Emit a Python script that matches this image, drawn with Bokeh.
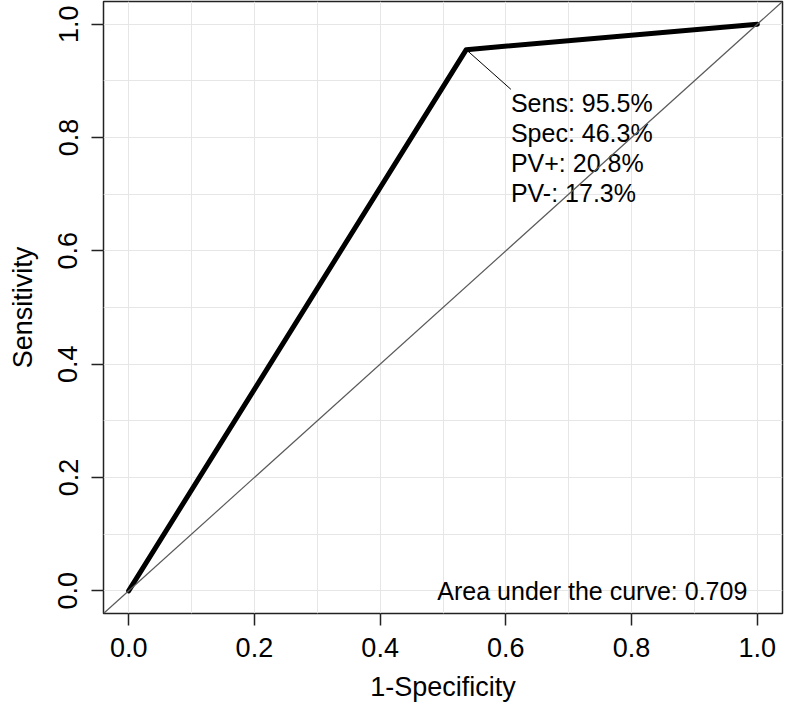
import math
from bokeh.plotting import figure
from bokeh.models import FixedTicker, Slope, Range1d, ColumnDataSource, PrintfTickFormatter
from bokeh.core.properties import value
from bokeh.embed import file_html
from bokeh.resources import INLINE

# ROC data
fpr = [0.0, 0.537, 1.0]          # 1 - Specificity
tpr = [0.0, 0.955, 1.0]          # Sensitivity
x_ticks = [0.0, 0.2, 0.4, 0.6, 0.8, 1.0]
y_ticks = [0.0, 0.2, 0.4, 0.6, 0.8, 1.0]
grid_ticks = [0.0, 0.1, 0.2, 0.3, 0.4, 0.5, 0.6, 0.7, 0.8, 0.9, 1.0]
stats_labels = ["Sens: 95.5%", "Spec: 46.3%", "PV+: 20.8%", "PV-: 17.3%"]
auc_label = "Area under the curve: 0.709"

FONT = "Liberation Sans"

p = figure(width=784, height=709, output_backend="svg", toolbar_location=None,
           x_range=Range1d(-0.04, 1.04), y_range=Range1d(-0.04, 1.04),
           min_border_left=103, min_border_right=2, min_border_top=1, min_border_bottom=96)

p.background_fill_color = "white"
p.border_fill_color = "white"
p.outline_line_color = "#222222"
p.outline_line_width = 1.5

for g in (p.xgrid, p.ygrid):
    g.ticker = FixedTicker(ticks=grid_ticks)
    g.grid_line_color = "#e6e6e6"
    g.grid_line_width = 1

for ax, ticks in ((p.xaxis, x_ticks), (p.yaxis, y_ticks)):
    ax.ticker = FixedTicker(ticks=ticks)
    ax.formatter = PrintfTickFormatter(format="%.1f")
    ax.axis_line_color = None
    ax.major_tick_in = 0
    ax.major_tick_out = 12
    ax.major_tick_line_color = "#222222"
    ax.major_tick_line_width = 1.5
    ax.minor_tick_line_color = None
    ax.major_label_text_font = FONT
    ax.major_label_text_font_size = "27px"
    ax.major_label_text_color = "black"
    ax.axis_label_text_font = FONT
    ax.axis_label_text_font_size = "27px"
    ax.axis_label_text_font_style = "normal"
    ax.axis_label_text_color = "black"

p.xaxis.axis_label = "1-Specificity"
p.yaxis.axis_label = "Sensitivity"
p.xaxis.major_label_standoff = 12
p.xaxis.axis_label_standoff = 12
p.yaxis.major_label_standoff = 14
p.yaxis.axis_label_standoff = 18
p.yaxis.major_label_orientation = "vertical"

# chance diagonal
p.add_layout(Slope(gradient=1, y_intercept=0, line_color="#5a5a5a", line_width=1.2))

# ROC curve
p.line(fpr, tpr, line_color="black", line_width=5, line_cap="round", line_join="round")

# annotation connector from the cut point to the labels
anchor_x = 0.608
anchor_y = 0.885
p.segment(x0=[fpr[1]], y0=[tpr[1]], x1=[anchor_x], y1=[anchor_y], line_color="black", line_width=1)

src = ColumnDataSource(dict(
    x=[anchor_x] * len(stats_labels),
    y=[anchor_y] * len(stats_labels),
    t=stats_labels,
    dy=[i * 30 for i in range(len(stats_labels))],
))
p.text(x="x", y="y", text="t", y_offset="dy", source=src,
       text_font=value(FONT), text_font_size="25px", text_color="black",
       text_align="left", text_baseline="top")

p.text(x=[0.984], y=[0.0], text=[auc_label], text_font=value(FONT),
       text_font_size="25px", text_color="black", text_align="right",
       text_baseline="alphabetic")

open("out.html", "w").write(file_html(p, INLINE))
